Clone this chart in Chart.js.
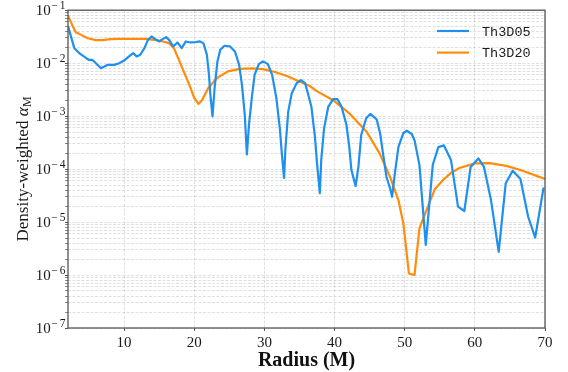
<!DOCTYPE html>
<html>
<head>
<meta charset="utf-8">
<title>Density-weighted alpha vs radius</title>
<script src="https://cdn.jsdelivr.net/npm/chart.js@4.4.1/dist/chart.umd.min.js"></script>
<style>
  html, body { margin: 0; padding: 0; background: #fff; }
</style>
</head>
<body>
<canvas id="chart" width="568" height="372"></canvas>
<script>
// Th3D05 profile
const th05Radius = [2.0, 2.9, 3.6, 4.6, 5.0, 5.5, 6.2, 6.7, 7.2, 7.7, 8.6, 9.3, 10.0, 10.7, 11.3, 11.8, 12.3, 12.9,
  13.4, 13.9, 14.4, 15.0, 15.5, 16.0, 16.4, 17.0, 17.6, 18.2, 18.8, 19.5, 20.2, 20.8, 21.3, 21.8, 22.1, 22.3,
  22.6, 22.9, 23.3, 23.7, 24.3, 25.1, 25.8, 26.4, 26.8, 27.2, 27.5, 27.8, 28.2, 28.6, 29.2, 29.8, 30.5, 31.1,
  31.7, 32.2, 32.5, 32.8, 33.0, 33.4, 33.9, 34.6, 35.2, 35.8, 36.2, 36.7, 37.2, 37.5, 37.9, 38.1, 38.5, 39.1,
  39.8, 40.4, 41.0, 41.7, 42.1, 42.4, 43.0, 43.4, 43.8, 44.5, 45.1, 46.0, 46.5, 46.9, 47.4, 47.9, 48.2, 48.6,
  49.1, 49.8, 50.3, 51.0, 51.4, 52.1, 53.0, 54.0, 54.8, 55.6, 56.6, 57.6, 58.5, 59.4, 60.5, 61.3, 62.3, 63.4,
  64.4, 65.4, 66.5, 67.6, 68.6, 69.8];
const th05Alpha = [0.05, 0.0192, 0.0155, 0.0124, 0.0115, 0.0115, 0.0093, 0.0080, 0.0087, 0.0093, 0.0093, 0.010,
  0.0112, 0.0134, 0.0155, 0.0134, 0.0144, 0.0192, 0.0275, 0.0319, 0.0287, 0.0257, 0.0284, 0.031, 0.0275, 0.0207,
  0.0246, 0.0192, 0.0257, 0.0246, 0.025, 0.0257, 0.0239, 0.0144, 0.006, 0.0025, 0.00099, 0.0034, 0.0108, 0.0178,
  0.0213, 0.0207, 0.0166, 0.0093, 0.0039, 0.00106, 0.00019, 0.00069, 0.0022, 0.006, 0.0096, 0.0108, 0.0096, 0.006,
  0.0022, 0.00059, 0.000186, 0.000068, 0.00025, 0.00123, 0.0027, 0.0042, 0.0048, 0.0042, 0.0027, 0.0015, 0.00041,
  0.000129, 0.000035, 0.000148, 0.00058, 0.0015, 0.0021, 0.0021, 0.0015, 0.00068, 0.00026, 0.000096, 0.000048,
  0.00011, 0.00044, 0.00091, 0.0011, 0.00087, 0.00047, 0.0002, 0.000071, 0.000044, 0.00003, 0.000083, 0.00026,
  0.00048, 0.00053, 0.00046, 0.00035, 0.00012, 0.0000037, 0.00012, 0.00026, 0.00028, 0.000148, 0.0000195,
  0.0000162, 0.00011, 0.000159, 0.00011, 0.000026, 0.00000275, 0.000054, 0.000093, 0.000065, 0.0000126,
  0.0000051, 0.000045];

// Th3D20 profile
const th20Radius = [2.0, 2.7, 3.1, 3.9, 4.8, 6.0, 6.9, 8.1, 9.3, 11.2, 13.1, 14.3, 15.5, 16.4, 17.1, 17.9, 18.7,
  19.4, 20.0, 20.6, 21.1, 22.0, 23.2, 24.8, 26.5, 28.2, 29.8, 31.5, 33.4, 34.8, 36.5, 37.4, 39.8, 42.2, 44.6,
  46.4, 47.9, 49.1, 49.8, 50.6, 51.4, 52.1, 53.3, 54.3, 55.5, 56.6, 57.8, 60.0, 62.1, 64.5, 66.5, 70.0];
const th20Alpha = [0.08, 0.049, 0.0385, 0.0342, 0.0296, 0.0272, 0.0272, 0.0284, 0.0287, 0.0287, 0.0287, 0.0275,
  0.0257, 0.0239, 0.0192, 0.0108, 0.006, 0.0036, 0.0022, 0.0017, 0.0020, 0.0034, 0.0052, 0.0070, 0.0078, 0.0080,
  0.0077, 0.0068, 0.0056, 0.0046, 0.0037, 0.0030, 0.0020, 0.0011, 0.0005, 0.0002, 0.000072, 0.000026, 0.0000095,
  0.00000107, 0.000001, 0.0000076, 0.0000195, 0.000042, 0.000063, 0.000085, 0.000105, 0.000128, 0.00013,
  0.000115, 0.000096, 0.000065];

const seriesNames = ['Th3D05', 'Th3D20'];
const xTicks = [10, 20, 30, 40, 50, 60, 70];
const yExponents = [-7, -6, -5, -4, -3, -2, -1];

const SERIF = '"Liberation Serif", "DejaVu Serif", serif';
const MONO = '"Liberation Mono", "DejaVu Sans Mono", monospace';
const BLUE = '#1f8ff0';
const ORANGE = '#ff8c0a';
const TEXT = '#1a1a1a';

function toPoints(xs, ys) {
  return xs.map((x, i) => ({ x: x, y: ys[i] }));
}

// Axis frame on all four sides
const framePlugin = {
  id: 'frame',
  afterDatasetsDraw(chart) {
    const { ctx, chartArea: a } = chart;
    ctx.save();
    ctx.strokeStyle = '#555';
    ctx.lineWidth = 1.3;
    ctx.strokeRect(a.left, a.top, a.right - a.left, a.bottom - a.top);
    ctx.restore();
  }
};

// Decade labels "10" with a raised exponent, placed at the y scale's major ticks
const powerLabelsPlugin = {
  id: 'powerLabels',
  afterDraw(chart) {
    const { ctx } = chart;
    const scale = chart.scales.y;
    const right = scale.right - 2.5;
    ctx.save();
    ctx.fillStyle = TEXT;
    ctx.textAlign = 'left';
    ctx.textBaseline = 'alphabetic';
    yExponents.forEach(e => {
      const y = scale.getPixelForValue(Math.pow(10, e));
      const digits = String(Math.abs(e));
      ctx.font = '11.5px ' + SERIF;
      const wMinus = ctx.measureText('\u2212').width + 2;
      const wDigits = ctx.measureText(digits).width;
      let x = right - wMinus - wDigits;
      ctx.font = '15px ' + SERIF;
      const wBase = ctx.measureText('10').width;
      ctx.fillText('10', x - wBase - 0.5, y + 5);
      ctx.font = '11.5px ' + SERIF;
      ctx.fillText('\u2212', x, y - 1);
      ctx.fillText(digits, x + wMinus, y - 1);
    });
    ctx.restore();
  }
};

// Rotated y title with italic alpha and subscript M
const yTitlePlugin = {
  id: 'yTitle',
  afterDraw(chart) {
    const { ctx, chartArea: a } = chart;
    const main = 'Density-weighted ';
    const mainFont = '17px ' + SERIF;
    const greekFont = 'italic 17px ' + SERIF;
    const subFont = '12px ' + SERIF;
    ctx.save();
    ctx.font = mainFont;
    const w1 = ctx.measureText(main).width;
    ctx.font = greekFont;
    const w2 = ctx.measureText('\u03B1').width;
    ctx.font = subFont;
    const w3 = ctx.measureText('M').width;
    ctx.translate(28, (a.top + a.bottom) / 2);
    ctx.rotate(-Math.PI / 2);
    ctx.fillStyle = TEXT;
    ctx.textBaseline = 'alphabetic';
    let x = -(w1 + w2 + w3) / 2;
    ctx.font = mainFont;
    ctx.fillText(main, x, 0);
    x += w1;
    ctx.font = greekFont;
    ctx.fillText('\u03B1', x, 0);
    x += w2 + 0.5;
    ctx.font = subFont;
    ctx.fillText('M', x, 3);
    ctx.restore();
  }
};

// Legend inside the upper right corner of the plot
const legendPlugin = {
  id: 'insideLegend',
  afterDraw(chart) {
    const { ctx } = chart;
    ctx.save();
    ctx.font = '13.5px ' + MONO;
    ctx.textBaseline = 'middle';
    chart.data.datasets.forEach((ds, i) => {
      const y = 31 + i * 21.6;
      ctx.strokeStyle = ds.borderColor;
      ctx.lineWidth = 2.2;
      ctx.beginPath();
      ctx.moveTo(437, y);
      ctx.lineTo(469, y);
      ctx.stroke();
      ctx.fillStyle = TEXT;
      ctx.fillText(ds.label, 482, y + 1);
    });
    ctx.restore();
  }
};

const gridColor = 'rgba(0, 0, 0, 0.12)';

new Chart(document.getElementById('chart'), {
  type: 'line',
  data: {
    datasets: [
      {
        label: seriesNames[0],
        data: toPoints(th05Radius, th05Alpha),
        borderColor: BLUE,
        borderWidth: 2.2,
        pointRadius: 0,
        tension: 0,
        borderJoinStyle: 'round',
        fill: false
      },
      {
        label: seriesNames[1],
        data: toPoints(th20Radius, th20Alpha),
        borderColor: ORANGE,
        borderWidth: 2.2,
        pointRadius: 0,
        tension: 0,
        borderJoinStyle: 'round',
        fill: false
      }
    ]
  },
  options: {
    responsive: false,
    animation: false,
    devicePixelRatio: 1,
    layout: { padding: { top: 10, right: 23, left: 0, bottom: 0 } },
    plugins: {
      legend: { display: false },
      tooltip: { enabled: false }
    },
    scales: {
      x: {
        type: 'linear',
        min: 2,
        max: 70,
        afterBuildTicks: scale => { scale.ticks = xTicks.map(v => ({ value: v })); },
        afterFit: scale => { scale.height = 44; },
        ticks: {
          autoSkip: false,
          maxRotation: 0,
          padding: 3,
          color: TEXT,
          font: { family: SERIF, size: 15 }
        },
        grid: { color: gridColor, tickLength: 3, tickColor: '#555', lineWidth: 1 },
        border: { display: false, dash: [3, 1.5] },
        title: {
          display: true,
          text: 'Radius (M)',
          color: '#111',
          font: { family: SERIF, size: 20, weight: 'bold', lineHeight: 1.1 },
          padding: { top: 2, bottom: 0 }
        }
      },
      y: {
        type: 'logarithmic',
        min: 1e-7,
        max: 1e-1,
        afterBuildTicks: scale => {
          const ticks = [];
          yExponents.forEach(e => {
            const steps = e === -1 ? 1 : 9;
            for (let m = 1; m <= steps; m++) {
              ticks.push({ value: m * Math.pow(10, e), major: m === 1 });
            }
          });
          scale.ticks = ticks;
        },
        afterFit: scale => { scale.width = 68; },
        ticks: {
          autoSkip: false,
          callback: () => ''
        },
        grid: {
          color: gridColor,
          tickLength: 3,
          tickColor: ctx => (ctx.tick && ctx.tick.major ? '#555' : '#888'),
          lineWidth: 1
        },
        border: { display: false, dash: [3, 1.5] }
      }
    }
  },
  plugins: [framePlugin, powerLabelsPlugin, yTitlePlugin, legendPlugin]
});
</script>
</body>
</html>
